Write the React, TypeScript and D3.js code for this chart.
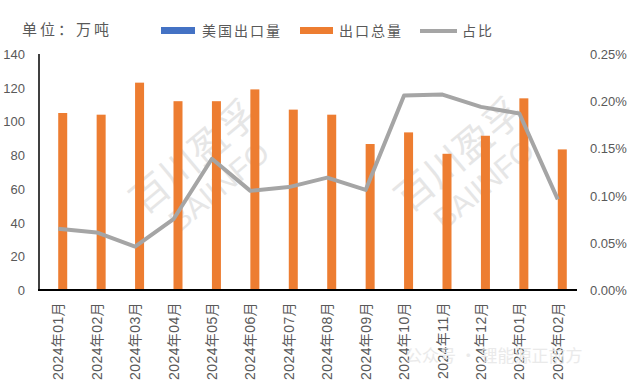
import * as d3 from "d3";

const WIDTH = 640;
const HEIGHT = 384;

const months = [
  "2024年01月", "2024年02月", "2024年03月", "2024年04月", "2024年05月",
  "2024年06月", "2024年07月", "2024年08月", "2024年09月", "2024年10月",
  "2024年11月", "2024年12月", "2025年01月", "2025年02月",
];
// 美国出口量 (万吨) – tiny, barely visible
const usExports = [0.07, 0.06, 0.06, 0.08, 0.16, 0.12, 0.12, 0.12, 0.09, 0.19, 0.17, 0.18, 0.21, 0.08];
// 出口总量 (万吨)
const totalExports = [105, 104, 123, 112, 112, 119, 107, 104, 86.6, 93.5, 80.8, 91.5, 113.7, 83.4];
// 占比 (%)
const sharePct = [0.065, 0.061, 0.046, 0.075, 0.139, 0.105, 0.109, 0.119, 0.106, 0.206, 0.207, 0.194, 0.187, 0.096];

const leftTicks = [0, 20, 40, 60, 80, 100, 120, 140];
const rightTicks = [0, 0.05, 0.1, 0.15, 0.2, 0.25];

const BLUE = "#4472c4";
const ORANGE = "#ed7d31";
const GRAY = "#a5a5a5";
const TEXT = "#595959";
const CJK = "'Noto Sans CJK SC', sans-serif";
const NUM = "'Liberation Sans', 'Noto Sans CJK SC', sans-serif";

const left = 39;
const right = 577;
const top = 54;
const bottom = 290;

function App() {
  const x = d3.scaleBand<string>().domain(months).range([left, right]).padding(0);
  const barW = 9;
  const yL = d3.scaleLinear().domain([0, 140]).range([bottom, top]);
  const yR = d3.scaleLinear().domain([0, 0.25]).range([bottom, top]);

  const line = d3
    .line<number>()
    .x((_, i) => (x(months[i]) ?? 0) + x.bandwidth() / 2)
    .y((d) => yR(d));

  return (
    <svg
      width={WIDTH}
      height={HEIGHT}
      style={{ position: "absolute", left: 0, top: 0, background: "#fff" }}
    >
      {/* watermarks */}
      <g fill="#e6e6e6" fontFamily={CJK}>
        <g transform="translate(205,170) rotate(-40)">
          <text textAnchor="middle" fontSize={38} y={-4}>百川盈孚</text>
          <text textAnchor="middle" fontSize={30} y={32} fontFamily={NUM}>BAIINFO</text>
        </g>
        <g transform="translate(470,168) rotate(-40)">
          <text textAnchor="middle" fontSize={38} y={-4}>百川盈孚</text>
          <text textAnchor="middle" fontSize={30} y={32} fontFamily={NUM}>BAIINFO</text>
        </g>
      </g>

      {/* title / unit */}
      <text x={22} y={35} fontSize={15} fill={TEXT} fontFamily={CJK} letterSpacing={3}>单位：万吨</text>

      {/* legend */}
      <rect x={161} y={27} width={34} height={7} fill={BLUE} />
      <text x={202} y={36} fontSize={14} fill={TEXT} fontFamily={CJK} letterSpacing={2}>美国出口量</text>
      <rect x={300} y={27} width={33} height={7} fill={ORANGE} />
      <text x={339} y={36} fontSize={14} fill={TEXT} fontFamily={CJK} letterSpacing={2}>出口总量</text>
      <line x1={420} x2={457} y1={31} y2={31} stroke={GRAY} strokeWidth={4} />
      <text x={462} y={36} fontSize={14} fill={TEXT} fontFamily={CJK} letterSpacing={2}>占比</text>

      {/* left axis labels */}
      {leftTicks.map((t) => (
        <text key={t} x={25} y={yL(t) + 5} textAnchor="end" fontSize={13} fill={TEXT} fontFamily={NUM}>
          {t}
        </text>
      ))}
      {/* right axis labels */}
      {rightTicks.map((t) => (
        <text key={t} x={590} y={yR(t) + 5} fontSize={13} fill={TEXT} fontFamily={NUM}>
          {t.toFixed(2) + "%"}
        </text>
      ))}

      {/* bars */}
      {months.map((m, i) => {
        const cx = (x(m) ?? 0) + x.bandwidth() / 2;
        return (
          <g key={m}>
            <rect x={cx - barW} y={yL(usExports[i])} width={barW} height={bottom - yL(usExports[i])} fill={BLUE} />
            <rect x={cx} y={yL(totalExports[i])} width={barW} height={bottom - yL(totalExports[i])} fill={ORANGE} />
          </g>
        );
      })}

      {/* share line */}
      <path d={line(sharePct) ?? ""} fill="none" stroke={GRAY} strokeWidth={4} strokeLinejoin="round" />

      {/* axes */}
      <line x1={left} x2={left} y1={top} y2={bottom} stroke="#000" strokeWidth={1.5} />
      <line x1={left - 1} x2={right} y1={bottom} y2={bottom} stroke="#000" strokeWidth={2} />

      {/* x labels */}
      {months.map((m) => {
        const cx = (x(m) ?? 0) + x.bandwidth() / 2;
        return (
          <text
            key={m}
            transform={`translate(${cx + 5},302) rotate(-90)`}
            textAnchor="end"
            fontSize={14}
            letterSpacing={0.4}
            fill={TEXT}
            fontFamily={NUM}
          >
            {m}
          </text>
        );
      })}

      {/* bottom account watermark */}
      <text x={405} y={362} fontSize={17} fill="#e6e6e6" opacity={0.8} fontFamily={CJK}>
        公众号 · 锂能源正前方
      </text>
    </svg>
  );
}

export default App;
